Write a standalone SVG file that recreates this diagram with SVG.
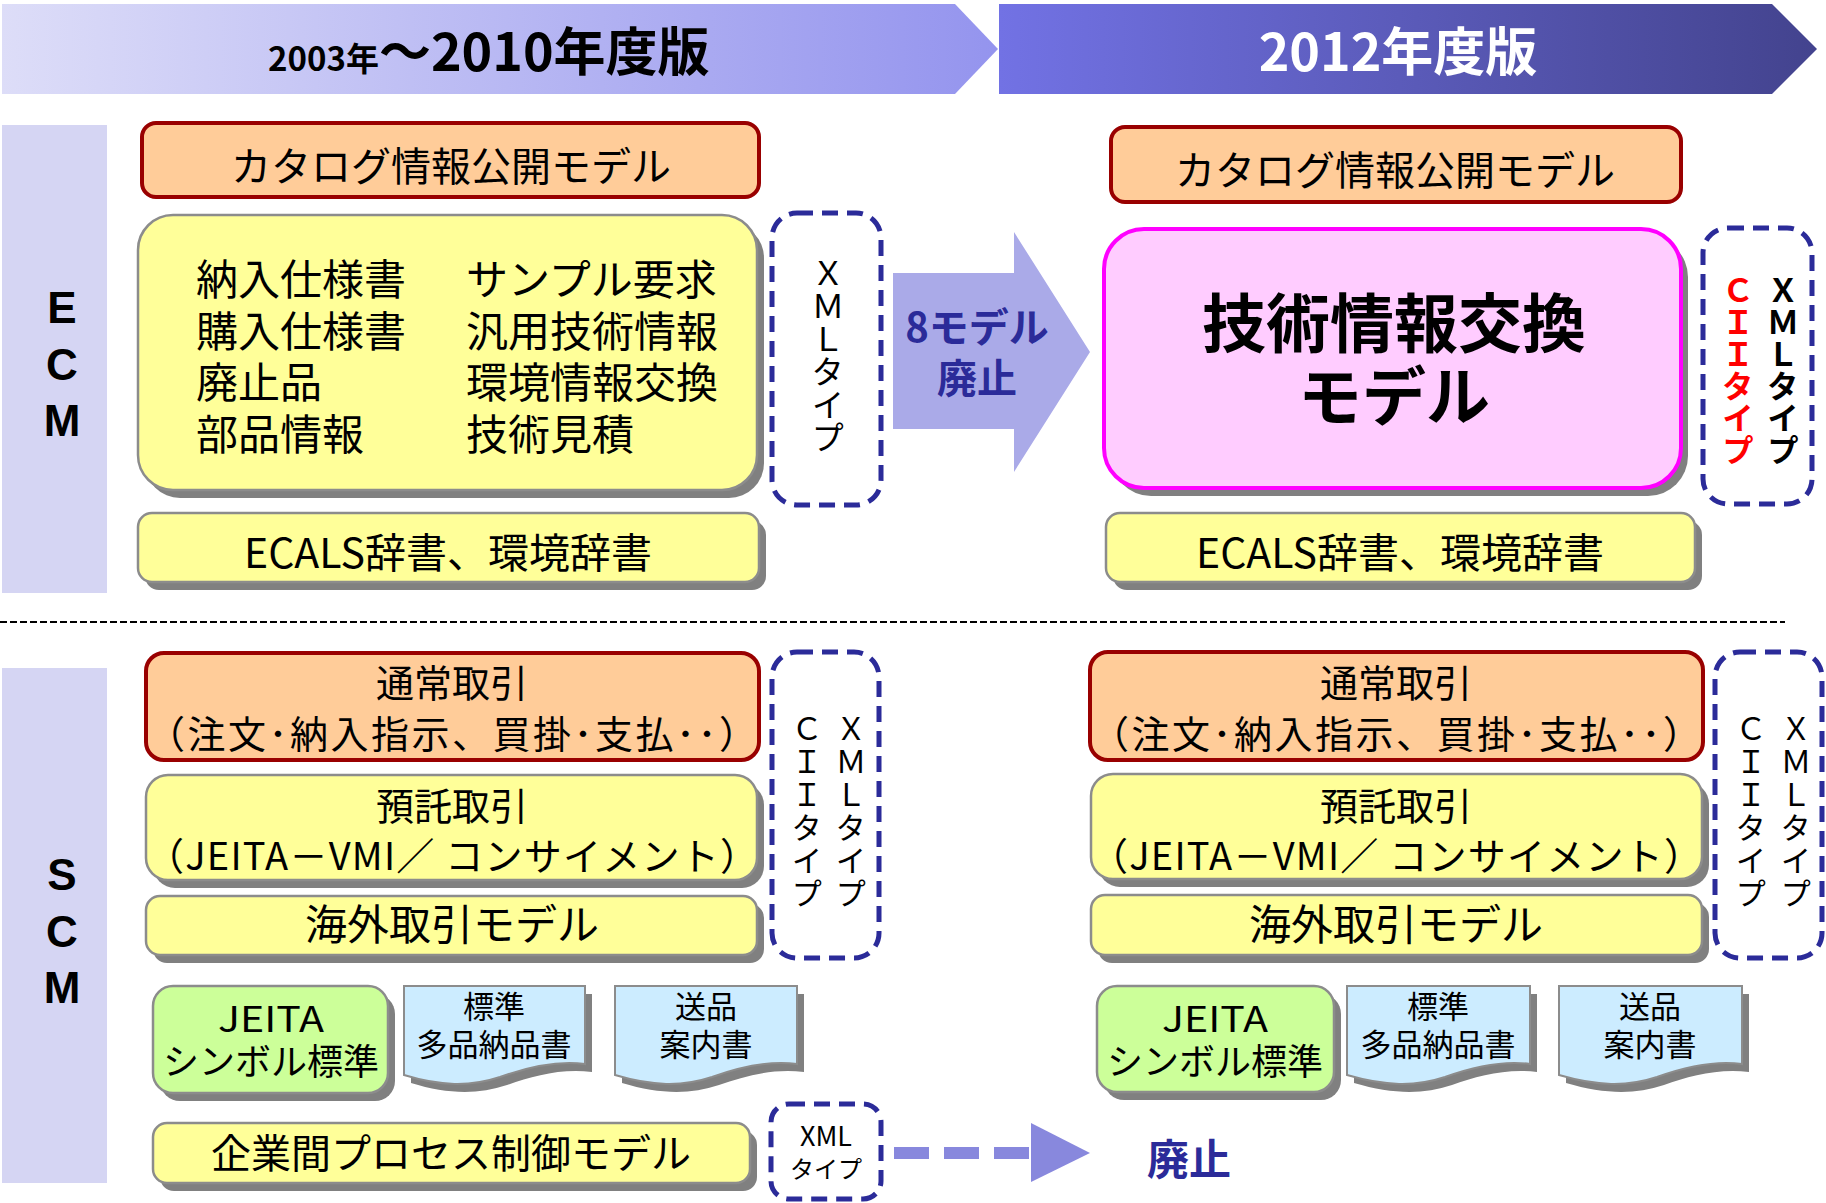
<svg xmlns="http://www.w3.org/2000/svg" width="1826" height="1203" viewBox="0 0 1826 1203">
<style>
text{font-family:"Noto Sans CJK JP","Noto Sans",sans-serif;fill:#000}
.t38{font-size:38px}
.t40{font-size:40px}
.t41{font-size:41px}
.t42{font-size:42px}
.mid{text-anchor:middle}
.band{fill:#D5D5F3}
.bl{font-family:"Liberation Sans",Arial,sans-serif;font-weight:bold;font-size:44px;text-anchor:middle}
.orange{fill:#FFCC99;stroke:#990000;stroke-width:4}
.yellow{fill:#FFFF99;stroke:#8C8C8C;stroke-width:2.5}
.green{fill:#CCFF99;stroke:#8C8C8C;stroke-width:2.5}
.doc{fill:#CCECFF;stroke:#8C8C8C;stroke-width:2}
.shadow{fill:#808080}
.dash{fill:#FFFFFF;stroke:#2B2B99;stroke-width:5;stroke-dasharray:16 9}
.navy{fill:#2B2B99;font-weight:bold}
.vert{writing-mode:vertical-rl;text-orientation:upright}
</style>
<defs>
<linearGradient id="g1" x1="0" y1="0" x2="1" y2="0">
<stop offset="0" stop-color="#DDDDF8"/><stop offset="1" stop-color="#9494EE"/>
</linearGradient>
<linearGradient id="g2" x1="0" y1="0" x2="1" y2="0">
<stop offset="0" stop-color="#7272E4"/><stop offset="1" stop-color="#43438E"/>
</linearGradient>
</defs>

<g id="header-old">
<polygon points="2,4 955,4 998,49 955,94 2,94" fill="url(#g1)"/>
<text x="268" y="71" font-weight="bold"><tspan font-size="33">2003年</tspan><tspan font-size="52">～2010年度版</tspan></text>
</g>
<g id="header-new">
<polygon points="999,4 1772,4 1817,49 1772,94 999,94" fill="url(#g2)"/>
<text x="1398" y="71" class="mid" font-size="52" font-weight="bold" style="fill:#FFFFFF">2012年度版</text>
</g>

<g id="ecm-band">
<rect class="band" x="2" y="125" width="105" height="468"/>
<text class="bl" x="62" y="323">E</text>
<text class="bl" x="62" y="380">C</text>
<text class="bl" x="62" y="436">M</text>
</g>
<g id="scm-band">
<rect class="band" x="2" y="668" width="105" height="515"/>
<text class="bl" x="62" y="890">S</text>
<text class="bl" x="62" y="947">C</text>
<text class="bl" x="62" y="1003">M</text>
</g>

<line id="separator" x1="0" y1="622" x2="1785" y2="622" stroke="#000" stroke-width="2" stroke-dasharray="7 3"/>

<!-- ECM left -->
<g id="catalog-old">
<rect class="orange" x="142" y="123" width="617" height="74" rx="14"/>
<text class="t40 mid" x="451" y="181">カタログ情報公開モデル</text>
</g>
<g id="ecm-models-old">
<rect class="shadow" x="145" y="223" width="619" height="275" rx="35"/>
<rect class="yellow" x="138" y="215" width="619" height="275" rx="35"/>
<text class="t42"><tspan x="196" y="295">納入仕様書</tspan><tspan x="196" y="347">購入仕様書</tspan><tspan x="196" y="398">廃止品</tspan><tspan x="196" y="450">部品情報</tspan></text>
<text class="t42"><tspan x="466" y="295">サンプル要求</tspan><tspan x="466" y="347">汎用技術情報</tspan><tspan x="466" y="398">環境情報交換</tspan><tspan x="466" y="450">技術見積</tspan></text>
</g>
<g id="ecm-xml-old">
<rect class="dash" x="772" y="213" width="109" height="292" rx="25"/>
<text class="vert" x="828" y="256" font-size="33">ＸＭＬタイプ</text>
</g>
<g id="ecals-old">
<rect class="shadow" x="145" y="521" width="621" height="69" rx="14"/>
<rect class="yellow" x="138" y="513" width="621" height="69" rx="14"/>
<text class="t41 mid" x="448" y="568">ECALS辞書、環境辞書</text>
</g>

<!-- ECM right -->
<g id="catalog-new">
<rect class="orange" x="1111" y="127" width="570" height="75" rx="14"/>
<text class="t40 mid" x="1395" y="185">カタログ情報公開モデル</text>
</g>
<g id="tech-exchange">
<rect class="shadow" x="1111" y="237" width="577" height="259" rx="40"/>
<rect x="1104" y="229" width="577" height="259" rx="40" fill="#FFCCFF" stroke="#FF00FF" stroke-width="4"/>
<text class="mid" font-size="64" font-weight="bold"><tspan x="1394" y="347">技術情報交換</tspan><tspan x="1394" y="420">モデル</tspan></text>
</g>
<g id="ecm-xml-new">
<rect class="dash" x="1703" y="228" width="109" height="276" rx="25"/>
<text class="vert" x="1738" y="274" font-size="32" font-weight="bold" style="fill:#FF0000">ＣＩＩタイプ</text>
<text class="vert" x="1783" y="274" font-size="32" font-weight="bold">ＸＭＬタイプ</text>
</g>
<g id="ecals-new">
<rect class="shadow" x="1113" y="521" width="589" height="69" rx="14"/>
<rect class="yellow" x="1106" y="513" width="589" height="69" rx="14"/>
<text class="t41 mid" x="1400" y="568">ECALS辞書、環境辞書</text>
</g>

<!-- SCM left -->
<g id="normal-old">
<rect class="orange" x="146" y="653" width="613" height="107" rx="18"/>
<text class="t38 mid"><tspan x="452" y="697">通常取引</tspan><tspan x="452" y="748" textLength="610" lengthAdjust="spacing">（注文･納入指示、買掛･支払･･）</tspan></text>
</g>
<g id="consign-old">
<rect class="shadow" x="153" y="783" width="611" height="105" rx="22"/>
<rect class="yellow" x="146" y="775" width="611" height="105" rx="22"/>
<text class="t38 mid"><tspan x="452" y="820">預託取引</tspan><tspan x="452" y="870" textLength="612" lengthAdjust="spacing">（JEITA－VMI／ コンサイメント）</tspan></text>
</g>
<g id="overseas-old">
<rect class="shadow" x="153" y="904" width="611" height="59" rx="14"/>
<rect class="yellow" x="146" y="896" width="611" height="59" rx="14"/>
<text class="t42 mid" x="452" y="940">海外取引モデル</text>
</g>
<g id="scm-xml-old">
<rect class="dash" x="772" y="652" width="107" height="306" rx="25"/>
<text class="vert" x="807" y="713" font-size="31" letter-spacing="2">ＣＩＩタイプ</text>
<text class="vert" x="851" y="713" font-size="31" letter-spacing="2">ＸＭＬタイプ</text>
</g>
<g id="jeita-old">
<rect class="shadow" x="160" y="994" width="235" height="107" rx="20"/>
<rect class="green" x="153" y="986" width="235" height="107" rx="20"/>
<text class="mid"><tspan x="271" y="1032" font-size="35" textLength="106" lengthAdjust="spacingAndGlyphs">JEITA</tspan><tspan x="271" y="1075" font-size="36">シンボル標準</tspan></text>
</g>
<g id="multi-delivery-old">
<path class="shadow" transform="translate(7,8)" d="M404,986 H585 V1064 C555,1060 525,1068 500,1077 C470,1087 440,1086 404,1075 Z"/>
<path class="doc" d="M404,986 H585 V1064 C555,1060 525,1068 500,1077 C470,1087 440,1086 404,1075 Z"/>
<text class="mid" font-size="31"><tspan x="494" y="1018">標準</tspan><tspan x="494" y="1056">多品納品書</tspan></text>
</g>
<g id="shipping-old">
<path class="shadow" transform="translate(7,8)" d="M615,986 H797 V1064 C767,1060 737,1068 712,1077 C682,1087 652,1086 615,1075 Z"/>
<path class="doc" d="M615,986 H797 V1064 C767,1060 737,1068 712,1077 C682,1087 652,1086 615,1075 Z"/>
<text class="mid" font-size="31"><tspan x="706" y="1018">送品</tspan><tspan x="706" y="1056">案内書</tspan></text>
</g>
<g id="process-control">
<rect class="shadow" x="160" y="1131" width="597" height="60" rx="14"/>
<rect class="yellow" x="153" y="1123" width="597" height="60" rx="14"/>
<text class="t40 mid" x="451" y="1168">企業間プロセス制御モデル</text>
</g>
<g id="process-xml">
<rect class="dash" x="771" y="1104" width="110" height="95" rx="18"/>
<text class="mid"><tspan x="826" y="1146" font-size="27">XML</tspan><tspan x="826" y="1178" font-size="24">タイプ</tspan></text>
</g>

<!-- SCM right -->
<g id="normal-new">
<rect class="orange" x="1090" y="652" width="613" height="108" rx="18"/>
<text class="t38 mid"><tspan x="1396" y="697">通常取引</tspan><tspan x="1396" y="748" textLength="610" lengthAdjust="spacing">（注文･納入指示、買掛･支払･･）</tspan></text>
</g>
<g id="consign-new">
<rect class="shadow" x="1098" y="782" width="611" height="105" rx="22"/>
<rect class="yellow" x="1091" y="774" width="611" height="105" rx="22"/>
<text class="t38 mid"><tspan x="1396" y="820">預託取引</tspan><tspan x="1396" y="870" textLength="612" lengthAdjust="spacing">（JEITA－VMI／ コンサイメント）</tspan></text>
</g>
<g id="overseas-new">
<rect class="shadow" x="1098" y="903" width="611" height="60" rx="14"/>
<rect class="yellow" x="1091" y="895" width="611" height="60" rx="14"/>
<text class="t42 mid" x="1396" y="940">海外取引モデル</text>
</g>
<g id="scm-xml-new">
<rect class="dash" x="1715" y="652" width="107" height="306" rx="25"/>
<text class="vert" x="1751" y="713" font-size="31" letter-spacing="2">ＣＩＩタイプ</text>
<text class="vert" x="1796" y="713" font-size="31" letter-spacing="2">ＸＭＬタイプ</text>
</g>
<g id="jeita-new">
<rect class="shadow" x="1104" y="994" width="237" height="106" rx="20"/>
<rect class="green" x="1097" y="986" width="237" height="106" rx="20"/>
<text class="mid"><tspan x="1215" y="1032" font-size="35" textLength="106" lengthAdjust="spacingAndGlyphs">JEITA</tspan><tspan x="1215" y="1075" font-size="36">シンボル標準</tspan></text>
</g>
<g id="multi-delivery-new">
<path class="shadow" transform="translate(7,8)" d="M1347,986 H1530 V1064 C1500,1060 1470,1068 1445,1077 C1415,1087 1385,1086 1347,1075 Z"/>
<path class="doc" d="M1347,986 H1530 V1064 C1500,1060 1470,1068 1445,1077 C1415,1087 1385,1086 1347,1075 Z"/>
<text class="mid" font-size="31"><tspan x="1438" y="1018">標準</tspan><tspan x="1438" y="1056">多品納品書</tspan></text>
</g>
<g id="shipping-new">
<path class="shadow" transform="translate(7,8)" d="M1559,986 H1742 V1064 C1712,1060 1682,1068 1657,1077 C1627,1087 1597,1086 1559,1075 Z"/>
<path class="doc" d="M1559,986 H1742 V1064 C1712,1060 1682,1068 1657,1077 C1627,1087 1597,1086 1559,1075 Z"/>
<text class="mid" font-size="31"><tspan x="1650" y="1018">送品</tspan><tspan x="1650" y="1056">案内書</tspan></text>
</g>
<g id="abolished">
<text class="navy" x="1147" y="1175" font-size="42">廃止</text>
</g>

<g id="connectors">
<g id="arrow-8models">
<polygon points="893,273 1014,273 1014,232 1090,352 1014,472 1014,429 893,429" fill="#AAAAE8"/>
<text class="navy mid" font-size="40"><tspan x="977" y="342">8モデル</tspan><tspan x="977" y="393">廃止</tspan></text>
</g>
<g id="arrow-abolish">
<line x1="894" y1="1153" x2="1030" y2="1153" stroke="#8888DD" stroke-width="12" stroke-dasharray="35 15"/>
<polygon points="1031,1123 1090,1153 1031,1182" fill="#8888DD"/>
</g>
</g>
</svg>
